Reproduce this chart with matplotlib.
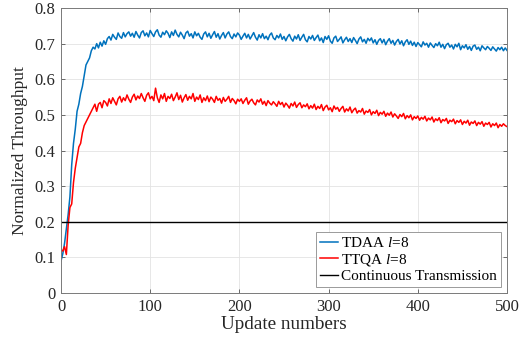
import numpy as np
import matplotlib
matplotlib.use("Agg")
import matplotlib.pyplot as plt

plt.rcParams['font.family'] = ['Liberation Serif', 'DejaVu Serif']
plt.rcParams['mathtext.fontset'] = 'custom'
plt.rcParams['mathtext.it'] = 'Liberation Serif:italic'
plt.rcParams['mathtext.rm'] = 'Liberation Serif'

# throughput per update (every 2nd update, 0..500), in thousandths
tdaa = """
090 110 140 180 220 270 360 420 460 510 530 560 580 610 640 650 660 680 690 685
700 688 704 693 708 698 714 720 710 726 718 712 730 720 715 731 719 728 733 721
729 718 734 724 716 731 736 722 730 719 737 728 720 733 739 724 718 732 725 736
729 717 733 723 738 726 719 732 724 714 730 735 721 728 716 733 722 729 718 712
727 733 719 729 715 725 734 718 728 713 723 731 716 727 733 720 714 727 719 730
724 712 721 729 716 726 713 722 731 718 710 725 716 728 714 721 711 724 730 716
711 723 716 727 712 720 708 719 726 714 707 721 713 725 709 718 726 711 705 720
713 723 709 717 724 708 716 703 720 712 722 707 701 716 721 706 712 719 702 711
718 706 714 703 717 709 700 713 719 705 712 701 715 708 716 702 711 698 709 714
702 712 697 707 714 701 709 696 706 712 699 708 694 705 711 698 707 695 704 692
703 697 691 705 696 701 690 702 695 689 700 694 704 690 698 686 697 701 690 696
685 698 691 701 683 694 688 697 684 692 681 693 696 684 690 680 694 688 683 692
687 681 691 685 679 689 683 690 680 688 681
"""

ttqa = """
120 118 130 108 190 240 250 310 350 380 410 420 450 470 480 490 500 510 520 530
510 530 535 520 540 535 525 545 532 548 538 528 545 552 536 548 540 556 544 535
550 558 542 553 546 560 548 538 555 562 545 552 540 575 548 535 556 545 560 538
552 546 558 540 550 562 543 555 536 548 557 541 552 545 560 538 550 543 556 535
548 540 553 537 550 544 535 552 541 546 533 549 538 544 552 535 546 540 531 544
538 545 532 541 548 530 539 544 534 528 542 536 545 530 538 526 540 533 528 537
531 524 538 529 535 522 533 527 519 532 525 536 521 529 534 520 528 523 531 517
526 519 530 515 524 518 529 512 522 527 514 520 509 525 516 521 510 518 524 508
517 511 522 506 514 519 505 512 508 518 502 511 507 515 500 509 504 513 498 507
502 510 496 505 499 508 494 503 497 490 501 495 504 489 498 492 500 486 495 490
497 485 493 488 496 483 491 486 494 480 489 484 492 478 487 483 490 476 485 481
488 475 484 479 486 473 482 477 485 471 480 476 483 470 479 474 481 468 477 473
479 466 475 470 477 464 473 468 475 470 467
"""

continuous = 0.2

tdaa = np.array(tdaa.split(), dtype=float) / 1000
ttqa = np.array(ttqa.split(), dtype=float) / 1000
updates = np.arange(0, 501, 2)

fig = plt.figure(figsize=(5.3, 3.41), dpi=100)
ax = fig.add_axes([0.1151, 0.1408, 0.8415, 0.8357])

ax.plot(updates, tdaa, color='#0072BD', lw=1.1, label='TDAA $l$=8')
ax.plot(updates, ttqa, color='#FF0000', lw=1.1, label='TTQA $l$=8')
ax.axhline(continuous, color='black', lw=1.0, label='Continuous Transmission')

ax.set_xlim(0, 500)
ax.set_ylim(0, 0.8)
ax.set_xticks(np.arange(0, 501, 100))
ax.set_yticks(np.arange(0, 0.81, 0.1))
ax.set_yticklabels(['0', '0.1', '0.2', '0.3', '0.4', '0.5', '0.6', '0.7', '0.8'])

ax.grid(True, color='#e3e3e3', lw=0.6)
ax.set_axisbelow(True)
for s in ax.spines.values():
    s.set_color('#7a7a7a')
    s.set_linewidth(0.7)
ax.tick_params(direction='in', top=True, right=True, length=3,
               width=0.6, color='#555555', labelsize=12, labelcolor='#262626', pad=4)

ax.set_xlabel('Update numbers', fontsize=13.8, color='#262626', labelpad=1)
ax.set_ylabel('Normalized Throughput', fontsize=12.6, color='#262626', labelpad=5)

leg = ax.legend(loc='lower right', fontsize=11, fancybox=False, framealpha=1,
                edgecolor='#9a9a9a', handlelength=1.2, handletextpad=0.2,
                borderpad=0.25, labelspacing=0.1, borderaxespad=0.4)
leg.get_frame().set_linewidth(0.7)

fig.savefig('out.png', dpi=100)
